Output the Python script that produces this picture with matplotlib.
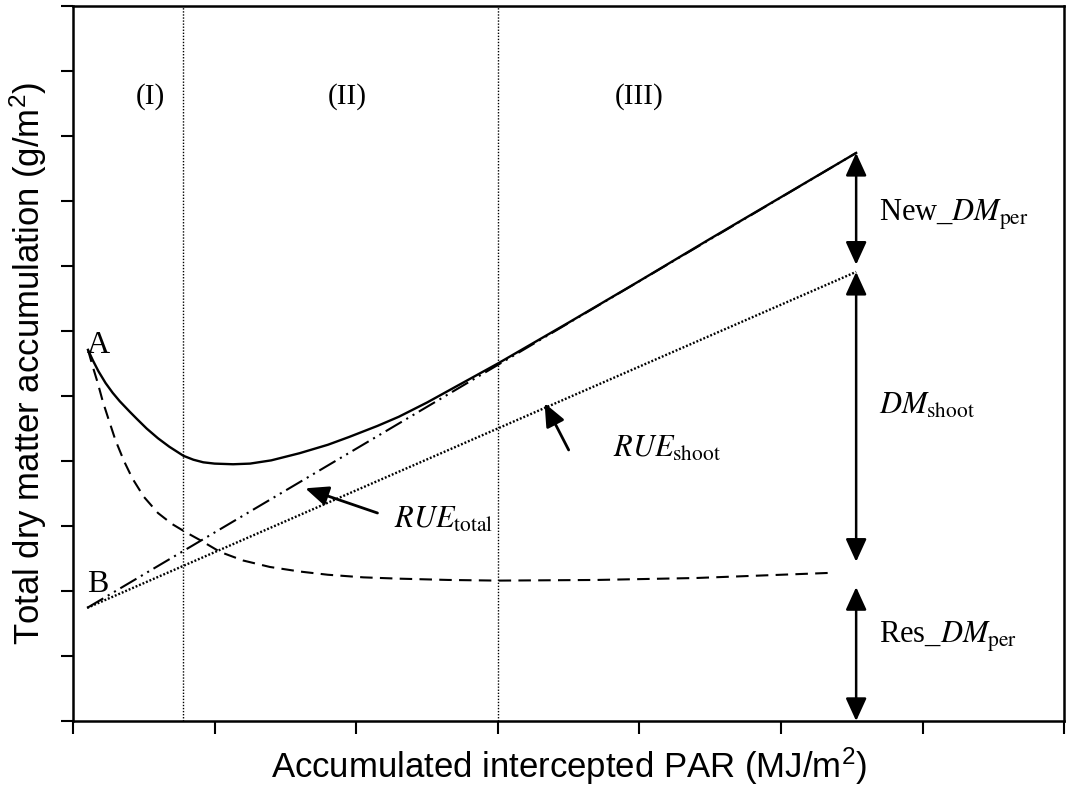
import matplotlib
matplotlib.use('Agg')
import matplotlib.pyplot as plt

plt.rcParams['mathtext.fontset'] = 'custom'
plt.rcParams['mathtext.rm'] = 'Liberation Sans'
plt.rcParams['mathtext.it'] = 'Liberation Sans:italic'

# total dry matter (solid), shoot + new perennial
total_x = [0.106, 0.14, 0.18, 0.23, 0.28, 0.33, 0.4, 0.45, 0.52, 0.6, 0.68, 0.78,
           0.85, 0.92, 1.0, 1.13, 1.25, 1.4, 1.6, 1.8, 1.95, 2.15, 2.3, 2.5,
           2.65, 2.8, 3.0, 3.5, 4.0, 4.5, 5.0, 5.53]
total_y = [5.71, 5.55, 5.38, 5.2, 5.05, 4.92, 4.76, 4.65, 4.5, 4.35, 4.22, 4.08,
           4.02, 3.98, 3.96, 3.95, 3.96, 4.01, 4.12, 4.25, 4.37, 4.54, 4.68, 4.9,
           5.08, 5.26, 5.5, 6.13, 6.77, 7.42, 8.06, 8.74]

# residual perennial dry matter (dashed)
res_x = [0.106, 0.14, 0.175, 0.21, 0.25, 0.3, 0.36, 0.42, 0.5, 0.6, 0.7, 0.8,
         0.9, 1.04, 1.2, 1.39, 1.6, 1.8, 2.05, 2.3, 2.65, 3.0, 3.7, 4.4, 5.36]
res_y = [5.71, 5.45, 5.2, 4.92, 4.65, 4.32, 4.0, 3.73, 3.45, 3.2, 3.03, 2.9,
         2.78, 2.6, 2.47, 2.37, 2.3, 2.25, 2.21, 2.19, 2.17, 2.16, 2.17, 2.2, 2.28]

# RUE lines from point B
rue_total_x = [0.1, 5.53]
rue_total_y = [1.74, 8.74]
rue_shoot_x = [0.1, 5.53]
rue_shoot_y = [1.74, 6.91]

phase_bounds = [0.78, 3.0]
phase_names = ['(I)', '(II)', '(III)']
phase_x = [0.55, 1.94, 4.0]
phase_y = 9.6

# partition arrows at the end of the season
bar_x = 5.53
new_dm = [7.02, 8.74]
dm_shoot = [2.45, 6.91]
res_dm = [0.0, 2.06]

fig = plt.figure(figsize=(10.67, 7.93), dpi=100)
ax = fig.add_axes([0.0684, 0.0908, 0.9291, 0.9016])

for b in phase_bounds:
    ax.axvline(b, color='black', lw=1.0, ls=(0, (1, 1.2)))

ax.plot(rue_total_x, rue_total_y, color='black', lw=1.5,
        ls=(0, (9, 2.5, 1, 2.5, 1, 2.5)))
ax.plot(rue_shoot_x, rue_shoot_y, color='black', lw=1.7, ls=(0, (0.8, 0.8)))
ax.plot(res_x, res_y, color='black', lw=1.5, ls=(0, (6, 3.5)))
ax.plot(total_x, total_y, color='black', lw=1.7)

serif = dict(family='Liberation Serif', color='black')
for name, px in zip(phase_names, phase_x):
    ax.text(px, phase_y, name, ha='center', va='center', fontsize=21, **serif)

ax.text(0.1, 5.66, 'A', ha='left', va='baseline', fontsize=23, **serif)
ax.text(0.1, 1.98, 'B', ha='left', va='baseline', fontsize=23, **serif)

arrow = dict(arrowstyle='<|-|>,head_length=0.7,head_width=0.32',
             color='black', lw=1.8, shrinkA=0, shrinkB=0, mutation_scale=20)
for lo, hi in [new_dm, dm_shoot, res_dm]:
    ax.annotate('', xy=(bar_x, hi), xytext=(bar_x, lo), arrowprops=arrow)

ax.text(5.69, 7.69, r'New_$DM_{\rm per}$', fontsize=22, math_fontfamily='stix', **serif)
ax.text(5.69, 4.72, r'$DM_{\rm shoot}$', fontsize=22, math_fontfamily='stix', **serif)
ax.text(5.69, 1.2, r'Res_$DM_{\rm per}$', fontsize=22, math_fontfamily='stix', **serif)

pointer = dict(arrowstyle='-|>,head_length=0.7,head_width=0.3',
               color='black', lw=2.0, shrinkA=0, shrinkB=0, mutation_scale=20)
ax.annotate('', xy=(1.64, 3.58), xytext=(2.15, 3.2), arrowprops=pointer)
ax.annotate('', xy=(3.33, 4.89), xytext=(3.5, 4.17), arrowprops=pointer)
ax.text(2.27, 2.98, r'$RUE_{\rm total}$', fontsize=22, math_fontfamily='stix', **serif)
ax.text(3.81, 4.06, r'$RUE_{\rm shoot}$', fontsize=22, math_fontfamily='stix', **serif)

ax.set_xlim(0, 7)
ax.set_ylim(0, 11)
ax.set_xticks(range(0, 8))
ax.set_yticks(range(0, 12))
ax.tick_params(direction='out', length=9, width=1.5,
               labelleft=False, labelbottom=False)
for s in ax.spines.values():
    s.set_linewidth(1.8)

ax.set_xlabel(r'Accumulated intercepted PAR (MJ/m$^2$)', fontsize=25,
              family='Liberation Sans', labelpad=9)
ax.set_ylabel(r'Total dry matter accumulation (g/m$^2$)', fontsize=25,
              family='Liberation Sans', labelpad=8)

fig.savefig('out.png', dpi=100)
